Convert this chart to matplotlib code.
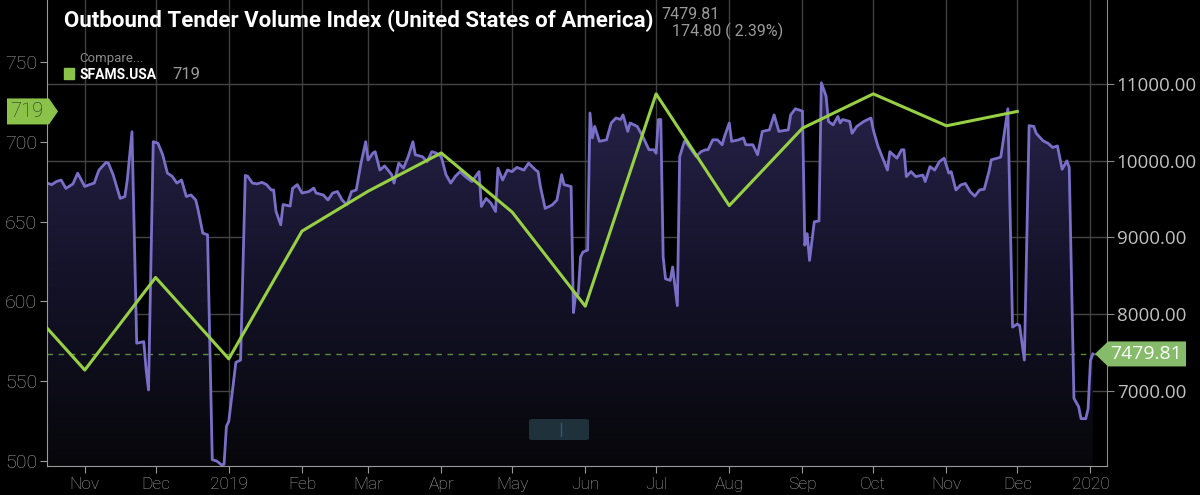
import datetime as dt
import numpy as np
import matplotlib
matplotlib.use('Agg')
import matplotlib.pyplot as plt
import matplotlib.dates as mdates
from matplotlib.patches import Polygon, FancyBboxPatch, Rectangle
from matplotlib.colors import LinearSegmentedColormap

# SFAMS.USA (monthly, left axis)
sfams_dates = ['2018-10-01', '2018-11-01', '2018-12-01', '2019-01-01', '2019-02-01',
               '2019-03-01', '2019-04-01', '2019-05-01', '2019-06-01', '2019-07-01',
               '2019-08-01', '2019-09-01', '2019-10-01', '2019-11-01', '2019-12-01']
sfams_values = [608, 557, 615, 564, 644, 669, 693, 656, 597, 730, 660, 708.5, 730, 710, 719]

# Outbound Tender Volume Index (right axis)
otvi_dates = [
    '2018-10-16', '2018-10-18', '2018-10-20', '2018-10-22', '2018-10-24', '2018-10-26',
    '2018-10-27', '2018-10-29', '2018-11-01', '2018-11-03', '2018-11-05', '2018-11-07',
    '2018-11-10', '2018-11-11', '2018-11-13', '2018-11-16', '2018-11-18', '2018-11-19',
    '2018-11-21', '2018-11-23', '2018-11-26', '2018-11-27', '2018-11-28', '2018-11-30',
    '2018-12-02', '2018-12-04', '2018-12-06', '2018-12-08', '2018-12-10', '2018-12-12',
    '2018-12-14', '2018-12-16', '2018-12-18', '2018-12-19', '2018-12-21', '2018-12-23',
    '2018-12-25', '2018-12-27', '2018-12-29', '2018-12-30', '2018-12-31', '2019-01-01',
    '2019-01-04', '2019-01-06', '2019-01-08', '2019-01-09', '2019-01-11', '2019-01-13',
    '2019-01-15', '2019-01-17', '2019-01-19', '2019-01-20', '2019-01-21', '2019-01-23',
    '2019-01-24', '2019-01-27', '2019-01-28', '2019-01-30', '2019-02-01', '2019-02-04',
    '2019-02-06', '2019-02-07', '2019-02-10', '2019-02-12', '2019-02-14', '2019-02-16',
    '2019-02-18', '2019-02-20', '2019-02-22', '2019-02-24', '2019-02-26', '2019-02-28',
    '2019-03-01', '2019-03-03', '2019-03-04', '2019-03-06', '2019-03-08', '2019-03-11',
    '2019-03-12', '2019-03-14', '2019-03-16', '2019-03-18', '2019-03-20', '2019-03-21',
    '2019-03-24', '2019-03-26', '2019-03-28', '2019-03-30', '2019-04-01', '2019-04-03',
    '2019-04-05', '2019-04-07', '2019-04-09', '2019-04-11', '2019-04-14', '2019-04-15',
    '2019-04-17', '2019-04-18', '2019-04-20', '2019-04-22', '2019-04-24', '2019-04-25',
    '2019-04-27', '2019-04-29', '2019-05-01', '2019-05-03', '2019-05-06', '2019-05-08',
    '2019-05-11', '2019-05-12', '2019-05-13', '2019-05-15', '2019-05-18', '2019-05-20',
    '2019-05-22', '2019-05-23', '2019-05-26', '2019-05-27', '2019-05-28', '2019-05-29',
    '2019-05-30', '2019-05-31', '2019-06-02', '2019-06-03', '2019-06-04', '2019-06-05',
    '2019-06-07', '2019-06-10', '2019-06-12', '2019-06-14', '2019-06-16', '2019-06-17',
    '2019-06-19', '2019-06-20', '2019-06-23', '2019-06-25', '2019-06-28', '2019-06-30',
    '2019-07-01', '2019-07-02', '2019-07-03', '2019-07-04', '2019-07-05', '2019-07-07',
    '2019-07-08', '2019-07-10', '2019-07-11', '2019-07-13', '2019-07-14', '2019-07-17',
    '2019-07-18', '2019-07-20', '2019-07-22', '2019-07-23', '2019-07-25', '2019-07-27',
    '2019-07-29', '2019-07-30', '2019-08-01', '2019-08-02', '2019-08-05', '2019-08-07',
    '2019-08-08', '2019-08-11', '2019-08-13', '2019-08-15', '2019-08-18', '2019-08-20',
    '2019-08-22', '2019-08-26', '2019-08-27', '2019-08-29', '2019-09-01', '2019-09-02',
    '2019-09-03', '2019-09-04', '2019-09-06', '2019-09-08', '2019-09-09', '2019-09-11',
    '2019-09-12', '2019-09-14', '2019-09-16', '2019-09-17', '2019-09-18', '2019-09-21',
    '2019-09-22', '2019-09-24', '2019-09-27', '2019-09-30', '2019-10-01', '2019-10-03',
    '2019-10-05', '2019-10-07', '2019-10-08', '2019-10-11', '2019-10-13', '2019-10-14',
    '2019-10-15', '2019-10-17', '2019-10-19', '2019-10-22', '2019-10-23', '2019-10-25',
    '2019-10-27', '2019-10-29', '2019-10-31', '2019-11-02', '2019-11-03', '2019-11-05',
    '2019-11-07', '2019-11-09', '2019-11-11', '2019-11-13', '2019-11-15', '2019-11-17',
    '2019-11-19', '2019-11-20', '2019-11-22', '2019-11-24', '2019-11-25', '2019-11-27',
    '2019-11-29', '2019-12-01', '2019-12-02', '2019-12-04', '2019-12-06', '2019-12-08',
    '2019-12-09', '2019-12-12', '2019-12-14', '2019-12-16', '2019-12-18', '2019-12-19',
    '2019-12-20', '2019-12-22', '2019-12-23', '2019-12-25', '2019-12-27', '2019-12-28',
    '2019-12-30', '2019-12-31', '2020-01-01', '2020-01-02']
otvi_values = [
    9710, 9690, 9730, 9750, 9640, 9680,
    9700, 9840, 9665, 9690, 9710, 9880,
    9980, 9970, 9820, 9510, 9535, 9750,
    10380, 7620, 7640, 7270, 7010, 10250,
    10230, 10080, 9840, 9800, 9710, 9750,
    9535, 9555, 9490, 9360, 9057, 9035,
    6100, 6080, 6030, 6040, 6535, 6600,
    7370, 7400, 9810, 9800, 9710, 9700,
    9720, 9690, 9620, 9620, 9340, 9165,
    9430, 9410, 9640, 9690, 9580, 9600,
    9645, 9580, 9555, 9490, 9580, 9600,
    9490, 9425, 9600, 9620, 9970, 10250,
    10010, 10100, 10120, 9880, 9935, 9820,
    9710, 9970, 9905, 10055, 10250, 10080,
    10055, 9990, 10120, 10100, 10055, 9820,
    9710, 9800, 9860, 9800, 9730, 9775,
    9860, 9405, 9510, 9450, 9340, 9905,
    9750, 9880, 9860, 9915, 9880, 9970,
    9880, 9860, 9665, 9380, 9425, 9490,
    9820, 9690, 9665, 8020, 8270, 8260,
    8745, 8810, 8835, 10625, 10300, 10450,
    10255, 10275, 10495, 10560, 10540, 10600,
    10385, 10495, 10450, 10340, 10145, 10145,
    10100, 10540, 10540, 8745, 8460, 8440,
    8615, 8110, 10055, 10255, 10230, 10100,
    10055, 10120, 10145, 10145, 10275, 10275,
    10210, 10320, 10495, 10255, 10275, 10300,
    10210, 10210, 10080, 10385, 10405, 10600,
    10385, 10405, 10600, 10680, 10650, 8900,
    9050, 8700, 9205, 9215, 11020, 10845,
    10515, 10470, 10580, 10495, 10540, 10515,
    10360, 10450, 10515, 10560, 10405, 10190,
    10035, 9880, 10120, 10035, 10145, 10145,
    9795, 9860, 9795, 9815, 9730, 9925,
    9880, 9990, 10035, 9840, 9860, 9620,
    9685, 9705, 9600, 9540, 9620, 9630,
    9860, 10015, 10030, 10050, 10255, 10680,
    7830, 7870, 7850, 7400, 10460, 10450,
    10360, 10260, 10230, 10175, 10195, 10045,
    9890, 10000, 9915, 6900, 6790, 6635,
    6635, 6765, 7395, 7479.81]

last_otvi = 7479.81
last_sfams = 719
change_text = '174.80 ( 2.39%)'

left_ticks = [500, 550, 600, 650, 700, 750]
right_ticks = [7000, 8000, 9000, 10000, 11000]
month_ticks = ['2018-11-01', '2018-12-01', '2019-01-01', '2019-02-01', '2019-03-01',
               '2019-04-01', '2019-05-01', '2019-06-01', '2019-07-01', '2019-08-01',
               '2019-09-01', '2019-10-01', '2019-11-01', '2019-12-01', '2020-01-01']
month_labels = ['Nov', 'Dec', '2019', 'Feb', 'Mar', 'Apr', 'May', 'Jun', 'Jul',
                'Aug', 'Sep', 'Oct', 'Nov', 'Dec', '2020']

to_dt = lambda s: dt.datetime.fromisoformat(s)
sx = [to_dt(d) for d in sfams_dates]
ox = [to_dt(d) for d in otvi_dates]
mx = [to_dt(d) for d in month_ticks]

W, H = 1200, 495
fig = plt.figure(figsize=(12, 4.95), dpi=100, facecolor='black')
ax1 = fig.add_axes([47 / W, 29 / H, 1060 / W, 466 / H])
ax2 = ax1.twinx()

xlim = (to_dt('2018-10-16'), to_dt('2020-01-08'))
ax1.set_xlim(xlim)
ax1.set_ylim(496.9, 788.8)
ax2.set_ylim(6017, 12100)

# gridlines
for m in mx:
    ax2.axvline(m, color='#3f3f3f', lw=1, zorder=0.5)
for t in right_ticks:
    ax2.axhline(t, color='#454545', lw=1, zorder=0.5)

# gradient area under the index line
poly = ax2.fill_between(ox, otvi_values, 6017, color='none', lw=0)
path = poly.get_paths()[0]
cmap = LinearSegmentedColormap.from_list('g', ['#07070b', '#15132a', '#28244c'])
grad = np.linspace(1, 0, 256).reshape(-1, 1)
x0, x1 = mdates.date2num(xlim[0]), mdates.date2num(xlim[1])
im = ax2.imshow(grad, aspect='auto', extent=[x0, x1, 6017, 11100], origin='upper',
                cmap=cmap, zorder=1)
im.set_clip_path(path, transform=ax2.transData)
ax2.set_xlim(xlim)
ax2.set_ylim(6017, 12100)

ax2.plot(ox, otvi_values, color='#7a6fc8', lw=2, zorder=3)
ax2.axhline(last_otvi, color='#5f8a3c', lw=1, ls=(0, (4, 4)), zorder=2)

ax1.plot(sx, sfams_values, color='#97d043', lw=2.2, zorder=4, clip_on=True)
ax1.set_zorder(ax2.get_zorder() + 1)
ax1.patch.set_visible(False)

# axes styling
ax1.set_xticks(mx)
ax1.set_xticklabels(month_labels)
ax1.set_yticks(left_ticks)
ax1.tick_params(axis='x', colors='#9a9a9a', labelcolor='#a8a8a8', length=5,
                labelsize=12.5, pad=3)
ax1.tick_params(axis='y', colors='#9a9a9a', labelcolor='#a8a8a8', length=5,
                labelsize=14, pad=2)
for lab in ax1.get_xticklabels() + ax1.get_yticklabels():
    lab.set_family(['Roboto', 'DejaVu Sans'])
    lab.set_fontweight('light')
ax2.set_yticks(right_ticks)
ax2.set_yticklabels(['%.2f' % t for t in right_ticks])
ax2.tick_params(axis='y', colors='#8a8a8a', labelcolor='#c0c0c0', length=5,
                labelsize=13.5, pad=2)
for lab in ax2.get_yticklabels():
    lab.set_family(['Open Sans', 'DejaVu Sans'])

for name, sp in ax1.spines.items():
    sp.set_visible(name in ('left', 'bottom'))
    sp.set_color('#9a9a9a')
for name, sp in ax2.spines.items():
    sp.set_visible(name == 'right')
    sp.set_color('#8a8a8a')


def fx(px):
    return px / W


def fy(py):
    return 1 - py / H


# header
fig.text(fx(64), fy(27), 'Outbound Tender Volume Index (United States of America)',
         color='white', fontsize=16, fontweight='bold', va='baseline',
         family=['Liberation Sans Narrow', 'Roboto', 'DejaVu Sans'])
fig.text(fx(661), fy(19), '%.2f' % last_otvi, color='#9a9a9a', fontsize=11.5,
         va='baseline', family=['Roboto', 'DejaVu Sans'])
fig.text(fx(672), fy(36), change_text, color='#9a9a9a', fontsize=11.5,
         va='baseline', family=['Roboto', 'DejaVu Sans'])

# legend
fig.text(fx(79), fy(62), 'Compare...', color='#8a8a8a', fontsize=9.5,
         va='baseline', family=['Roboto', 'DejaVu Sans'])
fig.patches.append(Rectangle((fx(64), fy(79)), 10 / W, 11 / H, color='#8bc34a',
                             transform=fig.transFigure))
fig.text(fx(80), fy(79), 'SFAMS.USA', color='white', fontsize=10, fontweight='bold',
         va='baseline', family=['Roboto', 'DejaVu Sans'])
fig.text(fx(172), fy(79), str(last_sfams), color='#9a9a9a', fontsize=12,
         va='baseline', family=['Roboto', 'DejaVu Sans'])

# value tags
fig.canvas.draw()
_, yl = ax1.transData.transform((0, last_sfams))
yl = H - yl
tag = Polygon([(fx(7), fy(yl - 13)), (fx(49), fy(yl - 13)), (fx(58), fy(yl)),
               (fx(49), fy(yl + 13)), (fx(7), fy(yl + 13))], closed=True,
              facecolor='#8bc34a', edgecolor='none', transform=fig.transFigure)
fig.patches.append(tag)
fig.text(fx(10), fy(yl), str(last_sfams), color='#2a2f25', fontsize=14.5, va='center',
         fontweight='light', family=['Roboto', 'DejaVu Sans'])

_, yr = ax2.transData.transform((0, last_otvi))
yr = H - yr
tag2 = Polygon([(fx(1095), fy(yr)), (fx(1108), fy(yr - 12.5)), (fx(1186), fy(yr - 12.5)),
                (fx(1186), fy(yr + 12.5)), (fx(1108), fy(yr + 12.5))], closed=True,
               facecolor='#86bb6a', edgecolor='none', transform=fig.transFigure)
fig.patches.append(tag2)
fig.text(fx(1110), fy(yr), '%.2f' % last_otvi, color='white', fontsize=14, va='center',
         family=['Open Sans', 'DejaVu Sans'])

# navigator handle
fig.patches.append(FancyBboxPatch((fx(529), fy(440)), 60 / W, 21 / H,
                                  boxstyle='round,pad=0,rounding_size=0.003',
                                  facecolor='#1f323c', edgecolor='none',
                                  transform=fig.transFigure))
fig.lines.append(plt.Line2D([fx(561), fx(561)], [fy(436), fy(423)], color='#3d5661',
                            lw=1, transform=fig.transFigure))

fig.savefig('out.png', dpi=100, facecolor='black')
